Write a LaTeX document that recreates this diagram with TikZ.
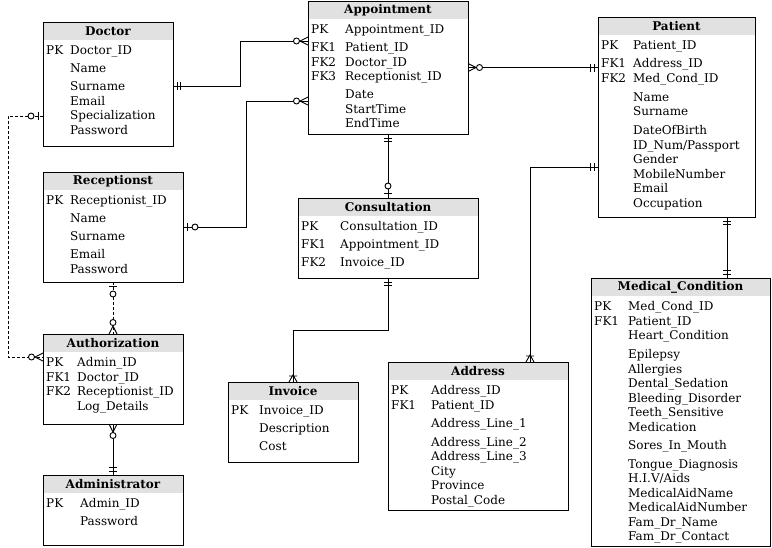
\documentclass[tikz,border=0pt]{standalone}
\usepackage{fontspec}
\setmainfont{DejaVu Serif}
\usepackage{tikz}
\usetikzlibrary{decorations.markings}
\usepackage{xcolor}
\definecolor{headgray}{HTML}{E1E1E1}
% end glyphs, box at the origin, line along -x
\newcommand\erOne{\draw[solid] (-4pt,-4pt) -- (-4pt,4pt) (-7.5pt,-4pt) -- (-7.5pt,4pt);}
\newcommand\erZeroOne{\draw[solid] (-4.5pt,-4pt) -- (-4.5pt,4pt); \draw[solid, fill=white] (-12pt,0) circle (3pt);}
\newcommand\erZeroMany{\draw[solid] (0,4pt) -- (-8pt,0) -- (0,-4pt); \draw[solid, fill=white] (-11.5pt,0) circle (3pt);}
\newcommand\erOneMany{\draw[solid] (0,4pt) -- (-7pt,0) -- (0,-4pt) (-6pt,-4pt) -- (-6pt,4pt);}

\begin{document}
\begin{tikzpicture}[x=1pt, y=-1pt,
  entity/.style={draw, line width=1pt, inner sep=0pt, outer sep=0pt, anchor=north west,
    path picture={\fill[headgray] (path picture bounding box.north west) rectangle ([yshift=-18pt]path picture bounding box.north east);}},
  enttitle/.style={font=\fontsize{12}{14.5}\selectfont\bfseries, inner sep=0pt},
  attrs/.style={font=\fontsize{12}{14.5}\selectfont, inner sep=0pt, anchor=base west},
  rel/.style 2 args={line width=0.9pt, postaction={decorate, decoration={markings,
      mark=at position 0 with {\pgftransformxscale{-1}#1},
      mark=at position 1 with {#2}}}},
  dash line/.style={dash pattern=on 3pt off 2pt}]
  \useasboundingbox (0,0) rectangle (772,547);
  \foreach \nm/\x/\y/\w/\h/\ttl in {doctor/43/22/130/124/Doctor, appointment/308/1/160/133/Appointment,
      patient/598/17/157/200/Patient, receptionst/43/172/140/110/Receptionst,
      consultation/298/198/180/80/Consultation, authorization/43/334/140/90/Authorization,
      administrator/43/475/140/70/Administrator, invoice/228/382/130/80/Invoice,
      address/388/362/180/148/Address, medcond/591/278/179/268/Medical\_Condition}{
    \node[entity, minimum width=\w, minimum height=\h] (\nm) at (\x,\y) {};
    \node[enttitle] (\nm-title) at ([yshift=-9pt]\nm.north) {\ttl};
  }
  \node[attrs] (doctor-attrs) at ([shift={(3pt,-32.5pt)}]doctor.north west) {\begin{tabular}[t]{@{}p{24pt}@{}l@{}}
    PK & Doctor\_ID\\[3.5pt] & Name\\[3.5pt] & Surname\\ & Email\\ & Specialization\\ & Password
  \end{tabular}};
  \node[attrs] (appointment-attrs) at ([shift={(3pt,-32.5pt)}]appointment.north west) {\begin{tabular}[t]{@{}p{34pt}@{}l@{}}
    PK & Appointment\_ID\\[3.5pt] FK1 & Patient\_ID\\ FK2 & Doctor\_ID\\ FK3 & Receptionist\_ID\\[3.5pt]
    & Date\\ & StartTime\\ & EndTime
  \end{tabular}};
  \node[attrs] (patient-attrs) at ([shift={(3pt,-32.5pt)}]patient.north west) {\begin{tabular}[t]{@{}p{32pt}@{}l@{}}
    PK & Patient\_ID\\[3.5pt] FK1 & Address\_ID\\ FK2 & Med\_Cond\_ID\\[4.5pt] & Name\\ & Surname\\[4.5pt]
    & DateOfBirth\\ & ID\_Num/Passport\\ & Gender\\ & MobileNumber\\ & Email\\ & Occupation
  \end{tabular}};
  \node[attrs] (receptionst-attrs) at ([shift={(3pt,-32.5pt)}]receptionst.north west) {\begin{tabular}[t]{@{}p{24pt}@{}l@{}}
    PK & Receptionist\_ID\\[3.5pt] & Name\\[3.5pt] & Surname\\[3.5pt] & Email\\ & Password
  \end{tabular}};
  \node[attrs] (consultation-attrs) at ([shift={(3pt,-32.5pt)}]consultation.north west) {\begin{tabular}[t]{@{}p{39pt}@{}l@{}}
    PK & Consultation\_ID\\[3.5pt] FK1 & Appointment\_ID\\[3.5pt] FK2 & Invoice\_ID
  \end{tabular}};
  \node[attrs] (authorization-attrs) at ([shift={(3pt,-32.5pt)}]authorization.north west) {\begin{tabular}[t]{@{}p{31pt}@{}l@{}}
    PK & Admin\_ID\\ FK1 & Doctor\_ID\\ FK2 & Receptionist\_ID\\ & Log\_Details
  \end{tabular}};
  \node[attrs] (administrator-attrs) at ([shift={(3pt,-32.5pt)}]administrator.north west) {\begin{tabular}[t]{@{}p{34pt}@{}l@{}}
    PK & Admin\_ID\\[3.5pt] & Password
  \end{tabular}};
  \node[attrs] (invoice-attrs) at ([shift={(3pt,-32.5pt)}]invoice.north west) {\begin{tabular}[t]{@{}p{28pt}@{}l@{}}
    PK & Invoice\_ID\\[3.5pt] & Description\\[3.5pt] & Cost
  \end{tabular}};
  \node[attrs] (address-attrs) at ([shift={(3pt,-32.5pt)}]address.north west) {\begin{tabular}[t]{@{}p{40pt}@{}l@{}}
    PK & Address\_ID\\ FK1 & Patient\_ID\\[3.5pt] & Address\_Line\_1\\[4.5pt] & Address\_Line\_2\\
    & Address\_Line\_3\\ & City\\ & Province\\ & Postal\_Code
  \end{tabular}};
  \node[attrs] (medcond-attrs) at ([shift={(3pt,-32.5pt)}]medcond.north west) {\begin{tabular}[t]{@{}p{34pt}@{}l@{}}
    PK & Med\_Cond\_ID\\ FK1 & Patient\_ID\\ & Heart\_Condition\\[4.5pt] & Epilepsy\\ & Allergies\\
    & Dental\_Sedation\\ & Bleeding\_Disorder\\ & Teeth\_Sensitive\\ & Medication\\[3.5pt]
    & Sores\_In\_Mouth\\[4.5pt] & Tongue\_Diagnosis\\ & H.I.V/Aids\\ & MedicalAidName\\
    & MedicalAidNumber\\ & Fam\_Dr\_Name\\ & Fam\_Dr\_Contact
  \end{tabular}};
  % relationships
  \draw[rel={\erOne}{\erZeroMany}] ([yshift=-2pt]doctor.east) -- ++(67,0) |- ([yshift=26.5pt]appointment.west);
  \draw[rel={\erZeroOne}{\erZeroMany}] (receptionst.east) -- ++(63,0) |- ([yshift=-33.5pt]appointment.west);
  \draw[rel={\erZeroMany}{\erOne}] (appointment.east) -- (appointment.east -| patient.west);
  \draw[rel={\erOne}{\erZeroOne}] (appointment.south) -- (consultation.north);
  \draw[rel={\erOne}{\erOneMany}] (consultation.south) -- ++(0,52) -| (invoice.north);
  \draw[rel={\erOne}{\erOneMany}] ([yshift=-50pt]patient.west) -| ([xshift=52pt]address.north);
  \coordinate (patient-medcond) at ([xshift=50.5pt]patient.south);
  \draw[rel={\erOne}{\erOne}] (patient-medcond) -- (patient-medcond |- medcond.north);
  \draw[rel={\erZeroOne}{\erZeroMany}, dash line] ([yshift=-32pt]doctor.west) -- ++(-35,0) |- ([yshift=22pt]authorization.west);
  \draw[rel={\erZeroOne}{\erZeroMany}, dash line] (receptionst.south) -- (authorization.north);
  \draw[rel={\erZeroMany}{\erOne}] (authorization.south) -- (administrator.north);
\end{tikzpicture}
\end{document}
